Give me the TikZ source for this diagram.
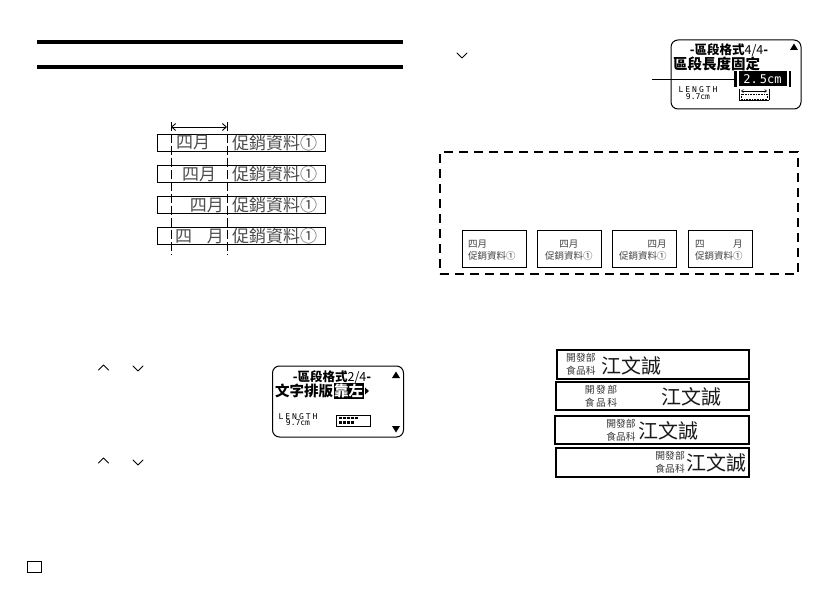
\documentclass[tikz,border=0pt]{standalone}
\usepackage{fontspec}
\newfontfamily\cjk{Noto Sans CJK TC}
\newfontfamily\lcd{DejaVu Sans Mono}
\newfontfamily\lcdwide{DejaVu Sans Mono}[LetterSpace=25]
\usetikzlibrary{arrows.meta}
\tikzset{
  bar/.style={line width=4pt},
  abox/.style={draw, line width=0.9pt, inner sep=0, minimum width=168, minimum height=17},
  atext/.style={inner sep=0, text=black!70, font=\cjk\fontsize{17}{17}\selectfont},
  guide/.style={line width=0.7pt, dash pattern=on 9pt off 3pt},
  chev/.style={line width=1pt, line cap=round, line join=round},
  lcdbox/.style={draw, line width=1pt, rounded corners=7pt},
  lcdtitle/.style={inner sep=0, font=\cjk\bfseries\fontsize{12.5}{12.5}\selectfont},
  lcdline/.style={inner sep=0, font=\cjk\bfseries\fontsize{14.5}{14.5}\selectfont},
  lcdsmall/.style={inner sep=0, align=center, font=\fontsize{8}{6.8}\selectfont},
  inv/.style={fill=black, text=white, inner sep=0.6pt},
  dbox/.style={draw, line width=2.6pt, dash pattern=on 9pt off 6pt},
  sbox/.style={draw, line width=0.9pt, inner sep=0, minimum width=64, minimum height=37},
  stext/.style={inner sep=0, text=black!75, font=\cjk\fontsize{9.5}{9.5}\selectfont},
  nbox/.style={draw, line width=1.1pt, inner sep=0},
  nsmall/.style={inner sep=0, text=black!80, font=\cjk\fontsize{9.8}{9.8}\selectfont},
  nbig/.style={inner sep=0, text=black!90, font=\cjk\fontsize{20}{20}\selectfont},
}
\begin{document}
\begin{tikzpicture}[x=1pt,y=-1pt]
\useasboundingbox (0,0) rectangle (840,596);
\fill[white] (0,0) rectangle (840,596);

% header bars
\coordinate (h1a) at (37,42); \coordinate (h1b) at (403,42);
\coordinate (h2a) at (37,67); \coordinate (h2b) at (403,67);
\draw[bar] (h1a) -- (h1b);
\draw[bar] (h2a) -- (h2b);

% alignment figure
\node[abox] (r1) at (241,143) {};
\node[abox] (r2) at (241,174) {};
\node[abox] (r3) at (241,205) {};
\node[abox] (r4) at (241,236) {};
\coordinate (g1t) at (171,122); \coordinate (g1b) at (171,255);
\coordinate (g2t) at (227,122); \coordinate (g2b) at (227,255);
\draw[guide] (g1t) -- (g1b);
\draw[guide] (g2t) -- (g2b);
\coordinate (ar1) at (171,127); \coordinate (ar2) at (227,127);
\draw[line width=0.9pt, {Straight Barb[length=4pt,width=7pt]}-{Straight Barb[length=4pt,width=7pt]}] (ar1) -- (ar2);
\node[atext, anchor=west] (t1a) at (176,143) {四月};
\node[atext, anchor=west] (t1b) at (232,143) {促銷資料①};
\node[atext] (t2a) at (199,174) {四月};
\node[atext, anchor=west] (t2b) at (232,174) {促銷資料①};
\node[atext, anchor=east] (t3a) at (224,205) {四月};
\node[atext, anchor=west] (t3b) at (232,205) {促銷資料①};
\node[atext, anchor=west] (t4a) at (175,236) {四};
\node[atext, anchor=east] (t4c) at (224,236) {月};
\node[atext, anchor=west] (t4b) at (232,236) {促銷資料①};

% chevrons lower left
\draw[chev] (98.5,370) -- (103.5,365) -- (108.5,370);
\draw[chev] (133,366) -- (138,371) -- (143,366);
\draw[chev] (98.5,463) -- (103.5,458) -- (108.5,463);
\draw[chev] (133,460) -- (138,465) -- (143,460);

% LCD 1
\node[lcdbox, minimum width=131, minimum height=71, inner sep=0] (lcd1) at (338,401.5) {};
\node[lcdtitle] (l1t) at (332,377) {-區段格式\textmd{2/4}-};
\node[lcdline, anchor=west] (l1a) at (275,391) {文字排版};
\node[lcdline, inv, anchor=west] (l1b) at (l1a.east) {靠左};
\fill (365,387.5) -- (369,391) -- (365,394.5) -- cycle;
\fill (392,378) -- (396,371.5) -- (400,378) -- cycle;
\fill (392,426) -- (400,426) -- (396,432.5) -- cycle;
\node[lcdsmall] (l1len) at (298,419.5) {\lcdwide LENGTH\\\lcd 9.7cm};
\node[draw, line width=0.8pt, minimum width=34, minimum height=11, inner sep=0] (l1bar) at (353,420.5) {};
\foreach \i in {0,...,4} \fill (338.5+\i*4,416.7) rectangle ++(3,2.4);
\foreach \i in {0,...,3} \fill (338.5+\i*4,421.2) rectangle ++(3,2.4);

% LCD 2
\draw[chev] (457,53) -- (462,58) -- (467,53);
\node[lcdbox, minimum width=130, minimum height=69, inner sep=0] (lcd2) at (736,74.5) {};
\node[lcdtitle] (l2t) at (729,50) {-區段格式\textmd{4/4}-};
\fill (790,50) -- (794,43.5) -- (798,50) -- cycle;
\node[lcdline, anchor=west] (l2a) at (673,63.5) {區段長度固定};
\fill (734,71) rectangle (736.5,87);
\node[fill=black, text=white, minimum width=48, minimum height=15, inner sep=0, font=\lcd\fontsize{12}{12}\selectfont] (l2v) at (762.5,79) {2.\,5cm};
\fill (789,71) rectangle (791,87);
\coordinate (lead) at (652,79);
\draw[line width=0.9pt] (lead) -- (734,79);
\node[lcdsmall] (l2len) at (698,93) {\lcdwide LENGTH\\\lcd 9.7cm};
\draw[line width=0.6pt, {Straight Barb[length=2pt,width=3pt]}-{Straight Barb[length=2pt,width=3pt]}] (741,91) -- (767,91);
\draw[line width=0.6pt] (739,89) -- (739,100) (769,89) -- (769,100);
\draw[line width=0.6pt, densely dotted] (741,94) rectangle (767,99);
\draw[line width=0.6pt] (739,100) -- (769,100);

% dashed box with samples
\node[dbox, minimum width=358, minimum height=122] (db) at (619,213) {};
\node[sbox] (s1) at (494,248.5) {};
\node[sbox] (s2) at (569,248.5) {};
\node[sbox] (s3) at (644,248.5) {};
\node[sbox] (s4) at (720,248.5) {};
\node[stext, anchor=west] (s1b) at (468,256) {促銷資料①};
\node[stext, anchor=west] (s1a) at (468,244) {四月};
\node[stext, anchor=west] (s2b) at (545,256) {促銷資料①};
\node[stext] (s2a) at (s2b.center |- 0,244) {四月};
\node[stext, anchor=west] (s3b) at (619,256) {促銷資料①};
\node[stext, anchor=east] (s3a) at (s3b.east |- 0,244) {四月};
\node[stext, anchor=west] (s4b) at (695,256) {促銷資料①};
\node[stext, anchor=west] (s4a) at (695,244) {四};
\node[stext, anchor=east] (s4c) at (s4b.east |- 0,244) {月};

% name labels
\node[nbox, minimum width=192, minimum height=29] (n1) at (653,364.5) {};
\node[nbox, minimum width=193, minimum height=28] (n2) at (652.5,396) {};
\node[nbox, minimum width=194, minimum height=28] (n3) at (652,430) {};
\node[nbox, minimum width=193, minimum height=29] (n4) at (652.5,462.5) {};
\node[nsmall, anchor=west] (n1a) at (566,358) {開發部};
\node[nsmall, anchor=west] (n1b) at (566,371) {食品科};
\node[nbig, anchor=west] (n1c) at (601,366) {江文誠};
\node[nsmall] (n2a) at (601,390) {開\hspace{1.5pt}發\hspace{1.5pt}部};
\node[nsmall] (n2b) at (601,403) {食\hspace{1.5pt}品\hspace{1.5pt}科};
\node[nbig] (n2c) at (691,397) {江文誠};
\node[nsmall] (n3a) at (621,424) {開發部};
\node[nsmall] (n3b) at (621,437) {食品科};
\node[nbig, anchor=west] (n3c) at (638,431) {江文誠};
\node[nsmall, anchor=east] (n4a) at (685,456) {開發部};
\node[nsmall, anchor=east] (n4b) at (685,469) {食品科};
\node[nbig, anchor=east] (n4c) at (747,463) {江文誠};

% page marker
\node[draw, line width=1pt, minimum width=14, minimum height=11, inner sep=0] (pm) at (34,567) {};
\end{tikzpicture}
\end{document}
